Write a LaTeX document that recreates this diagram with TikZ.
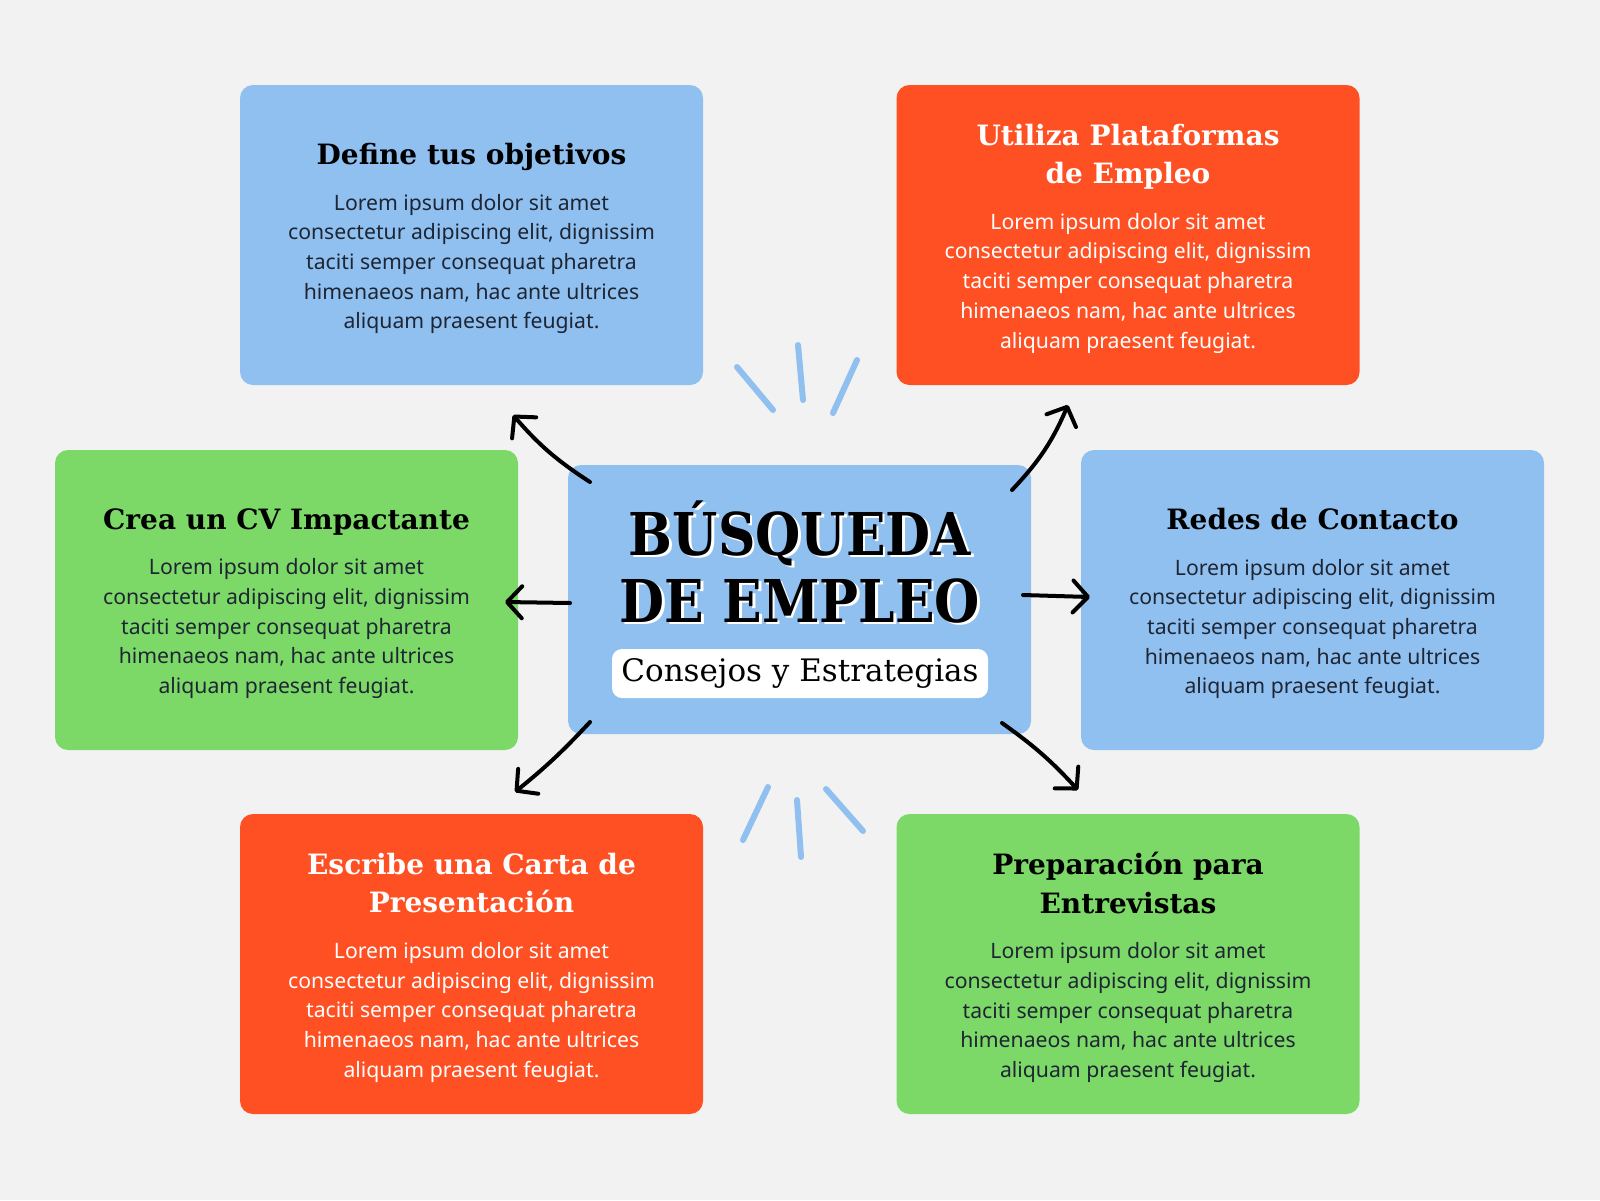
\documentclass[tikz,border=0pt]{standalone}
\usepackage{fontspec}
\usetikzlibrary{arrows.meta}
\newfontfamily\slabfont{DejaVu Serif}
\newfontfamily\slabcond{DejaVu Serif}[FakeStretch=0.88]
\newfontfamily\sansfontx{Noto Sans}
\definecolor{bgc}{HTML}{F2F2F2}
\definecolor{cblue}{HTML}{90C0F0}
\definecolor{cred}{HTML}{FF5023}
\definecolor{cgreen}{HTML}{7CD968}
\definecolor{ctext}{HTML}{1E2533}
\newcommand\cardtitle[2]{{\color{#1}\slabfont\bfseries\fontsize{28}{38.5}\selectfont #2\par}\vspace{16pt}}
\newcommand\cardbody{{\sansfontx\fontsize{21.2}{29.7}\selectfont Lorem ipsum dolor sit amet\\consectetur adipiscing elit, dignissim\\taciti semper consequat pharetra\\himenaeos nam, hac ante ultrices\\aliquam praesent feugiat.\par}}
\tikzset{
  card/.style={rounded corners=13pt, minimum width=463pt, minimum height=300pt, inner sep=0pt},
  cardtxt/.style={inner sep=0pt, align=flush center, text width=450pt},
  darktext/.style={text=ctext},
  lighttext/.style={text=white},
  arr/.style={line width=4pt, line cap=round, -{Straight Barb[length=15pt,width=32pt,round]}},
  spark/.style={draw=cblue, line width=6pt, line cap=round},
}
\begin{document}
\begin{tikzpicture}[x=1pt,y=-1pt]
\fill[bgc] (0,0) rectangle (1600,1200);
\useasboundingbox (0,0) rectangle (1600,1200);

% cards
\node[card, fill=cblue] (tl) at (471.5,235) {};
\node[card, fill=cred] (tr) at (1128,235) {};
\node[card, fill=cgreen] (lf) at (286.5,600) {};
\node[card, fill=cblue] (rt) at (1312.5,600) {};
\node[card, fill=cred] (bl) at (471.5,964) {};
\node[card, fill=cgreen] (br) at (1128,964) {};
\node[cardtxt, darktext] (tlt) at ([yshift=-3.5pt]tl.center) {\cardtitle{black}{Define tus objetivos}\cardbody};
\node[cardtxt, lighttext] (trt) at ([yshift=-3.5pt]tr.center) {\cardtitle{white}{Utiliza Plataformas\\de Empleo}\cardbody};
\node[cardtxt, darktext] (lft) at ([yshift=-3.5pt]lf.center) {\cardtitle{black}{Crea un CV Impactante}\cardbody};
\node[cardtxt, darktext] (rtt) at ([yshift=-3.5pt]rt.center) {\cardtitle{black}{Redes de Contacto}\cardbody};
\node[cardtxt, lighttext] (blt) at ([yshift=-3.5pt]bl.center) {\cardtitle{white}{Escribe una Carta de\\Presentación}\cardbody};
\node[cardtxt, darktext] (brt) at ([yshift=-3.5pt]br.center) {\cardtitle{black}{Preparación para\\Entrevistas}\cardbody};

% center
\node[rounded corners=13pt, fill=cblue, minimum width=463pt, minimum height=269pt, inner sep=0pt] (c) at (799.5,599.5) {};
\node[text=white, align=center, font=\slabcond\bfseries\fontsize{59}{67}\selectfont] (ttlsh) at (802.5,564.5) {BÚSQUEDA\\DE EMPLEO};
\node[text=black, align=center, font=\slabcond\bfseries\fontsize{59}{67}\selectfont] (ttl) at (800,562) {BÚSQUEDA\\DE EMPLEO};
\node[fill=white, rounded corners=10pt, minimum width=376pt, minimum height=49pt, inner sep=0pt, font=\slabfont\fontsize{31}{33}\selectfont] (sub) at (800,673.5) {Consejos y Estrategias};

% sparks
\draw[spark] (737,367) -- (773,410);
\draw[spark] (798,345) -- (803,400);
\draw[spark] (857,360) -- (833,413);
\draw[spark] (768,787) -- (743,840);
\draw[spark] (797,800) -- (801,857);
\draw[spark] (826,789) -- (863,831);

% arrows
\coordinate (a1s) at (590,482); \coordinate (a1e) at (513,415);
\coordinate (a2s) at (1012,490); \coordinate (a2e) at (1068,405);
\coordinate (a3s) at (570,603); \coordinate (a3e) at (505,602);
\coordinate (a4s) at (1023,595); \coordinate (a4e) at (1090,597);
\coordinate (a5s) at (590,722); \coordinate (a5e) at (515,792);
\coordinate (a6s) at (1002,723); \coordinate (a6e) at (1078,790);
\draw[arr] (a1s) to[bend left=8] (a1e);
\draw[arr] (a2s) to[bend right=10] (a2e);
\draw[arr] (a3s) -- (a3e);
\draw[arr] (a4s) -- (a4e);
\draw[arr] (a5s) to[bend left=4] (a5e);
\draw[arr] (a6s) to[bend left=6] (a6e);
\end{tikzpicture}
\end{document}
